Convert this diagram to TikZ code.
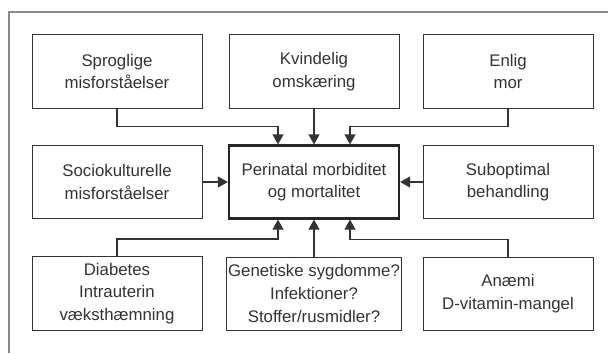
\documentclass[tikz,border=0pt]{standalone}
\usepackage{fontspec}
\setmainfont{Liberation Sans}
\usetikzlibrary{arrows.meta,calc}

\definecolor{boxline}{HTML}{333333}
\definecolor{frameline}{HTML}{8A8A8A}
\definecolor{txt}{HTML}{333333}

\tikzset{
  box/.style={draw=boxline, line width=0.5pt, minimum width=85pt, minimum height=36.5pt,
    align=center, inner xsep=1pt, text=txt, font=\fontsize{8.4}{11.3}\selectfont},
  mainbox/.style={box, line width=1.1pt, draw=black!85},
  link/.style={draw=boxline, line width=0.6pt, -{Triangle[length=5pt,width=5.5pt]}}
}

\begin{document}
\begin{tikzpicture}[x=0.5pt, y=-0.5pt]
\useasboundingbox (0,0) rectangle (608,353);

% Ramme (kun top og venstre side)
\draw[frameline, line width=0.6pt] (9,353) -- (9,12) -- (608,12);

% Midterboksen
\node[mainbox] (perinatal) at (314,182) {Perinatal morbiditet\\og mortalitet};

% Øverste række
\node[box] (sprog) at (117,71.5) {Sproglige\\misforståelser};
\node[box] (omsk) at (314,71.5) {Kvindelig\\omskæring};
\node[box] (enlig) at (508,71.5) {Enlig\\mor};

% Midterste række
\node[box] (socio) at (117,182) {Sociokulturelle\\misforståelser};
\node[box] (subopt) at (508,182) {Suboptimal\\behandling};

% Nederste række
\node[box] (diabetes) at (117,293.5) {Diabetes\\Intrauterin\\væksthæmning};
\node[box] (genetik) at (314,293.5) {Genetiske sygdomme?\\Infektioner?\\Stoffer/rusmidler?};
\node[box] (anaemi) at (508,293.5) {Anæmi\\D-vitamin-mangel};

% Pile ind mod midterboksen
\draw[link] (sprog.south) -- ++(0,18) -| ($(perinatal.north)+(-36,0)$);
\draw[link] (omsk.south) -- (perinatal.north);
\draw[link] (enlig.south) -- ++(0,18) -| ($(perinatal.north)+(36,0)$);

\draw[link] (socio.east) -- (perinatal.west);
\draw[link] (subopt.west) -- (perinatal.east);

\draw[link] (diabetes.north) -- ++(0,-17) -| ($(perinatal.south)+(-36,0)$);
\draw[link] (genetik.north) -- (perinatal.south);
\draw[link] (anaemi.north) -- ++(0,-17) -| ($(perinatal.south)+(36,0)$);
\end{tikzpicture}
\end{document}
